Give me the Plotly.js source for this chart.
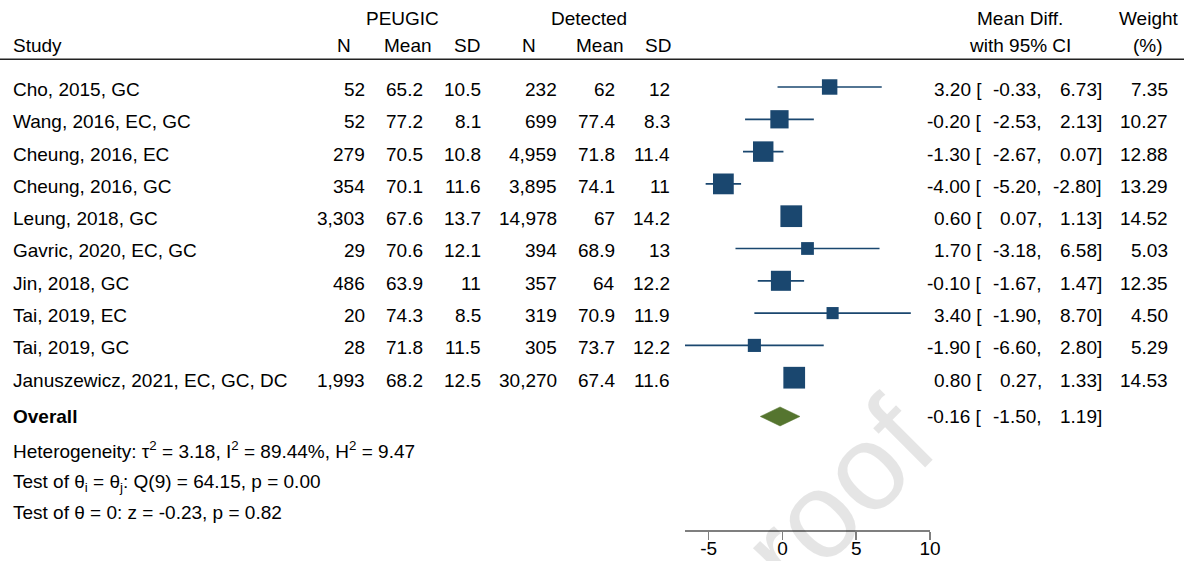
<!DOCTYPE html>
<html>
<head>
<meta charset="utf-8">
<script src="https://cdn.plot.ly/plotly-3.0.1.min.js"></script>
<style>
  html, body { margin: 0; padding: 0; background: #ffffff; }
  #chart { width: 1188px; height: 561px; }
</style>
</head>
<body>
<div id="chart"></div>
<script>
// Study-level inputs: PEUGIC vs detected cancers, mean age comparison
const studies = [
  "Cho, 2015, GC", "Wang, 2016, EC, GC", "Cheung, 2016, EC", "Cheung, 2016, GC",
  "Leung, 2018, GC", "Gavric, 2020, EC, GC", "Jin, 2018, GC", "Tai, 2019, EC",
  "Tai, 2019, GC", "Januszewicz, 2021, EC, GC, DC"
];
const peugicN    = [52, 52, 279, 354, 3303, 29, 486, 20, 28, 1993];
const peugicMean = [65.2, 77.2, 70.5, 70.1, 67.6, 70.6, 63.9, 74.3, 71.8, 68.2];
const peugicSD   = [10.5, 8.1, 10.8, 11.6, 13.7, 12.1, 11, 8.5, 11.5, 12.5];
const detN       = [232, 699, 4959, 3895, 14978, 394, 357, 319, 305, 30270];
const detMean    = [62, 77.4, 71.8, 74.1, 67, 68.9, 64, 70.9, 73.7, 67.4];
const detSD      = [12, 8.3, 11.4, 11, 14.2, 13, 12.2, 11.9, 12.2, 11.6];
const meanDiff   = [3.20, -0.20, -1.30, -4.00, 0.60, 1.70, -0.10, 3.40, -1.90, 0.80];
const ciLow      = [-0.33, -2.53, -2.67, -5.20, 0.07, -3.18, -1.67, -1.90, -6.60, 0.27];
const ciHigh     = [6.73, 2.13, 0.07, -2.80, 1.13, 6.58, 1.47, 8.70, 2.80, 1.33];
const weights    = [7.35, 10.27, 12.88, 13.29, 14.52, 5.03, 12.35, 4.50, 5.29, 14.53];

// Pooled (random-effects) estimate
const overallDiff = -0.16;
const overallLow  = -1.50;
const overallHigh = 1.19;

const xTickVals   = [-5, 0, 5, 10];
const xTickLabels = ["-5", "0", "5", "10"];

const footnotes = [
  "Heterogeneity: \u03c4<sup>2</sup> = 3.18, I<sup>2</sup> = 89.44%, H<sup>2</sup> = 9.47",
  "Test of \u03b8<sub>i</sub> = \u03b8<sub>j</sub>: Q(9) = 64.15, p = 0.00",
  "Test of \u03b8 = 0: z = -0.23, p = 0.82"
];

// ---- styling / geometry ----
const W = 1188, H = 561;
const NAVY = "#1a476f";
const GREEN = "#55752f";
const FONT = "'Liberation Sans', Arial, Helvetica, sans-serif";
const FS = 19;
const overallRow = 10.2;
const footRows = [11.238, 12.245, 13.173];
const headRow1 = -2.105, headRow2 = -1.30, ruleRow = -0.858;
const rowShift = -2.5;

const fmtInt = n => String(n).replace(/\B(?=(\d{3})+(?!\d))/g, ",");
const fmt2 = v => v.toFixed(2);
const px = x => x / W;

const annotations = [];
function txt(text, xpx, y, anchor, extra) {
  annotations.push(Object.assign({
    text: text, x: px(xpx), xref: "paper", y: y, yref: "y",
    xanchor: anchor, yanchor: "middle", showarrow: false,
    borderpad: 0, borderwidth: 0,
    font: { family: FONT, size: FS, color: "#000000" }
  }, extra || {}));
}

// Watermark (drawn first so everything else sits on top)
annotations.push({
  text: "Journal Pre-proof", x: px(579), xref: "paper", y: (530 - 754) / 530, yref: "paper",
  xanchor: "center", yanchor: "middle", showarrow: false, textangle: -45,
  font: { family: FONT, size: 122, color: "rgba(0,0,0,0.1)" }
});

// Column headers
txt("PEUGIC", 402, headRow1, "center");
txt("Detected", 589, headRow1, "center");
txt("Mean Diff.", 1020, headRow1, "center");
txt("Weight", 1149, headRow1, "center");
txt("Study", 13, headRow2, "left");
txt("N", 344, headRow2, "center");
txt("Mean", 408, headRow2, "center");
txt("SD", 467, headRow2, "center");
txt("N", 529, headRow2, "center");
txt("Mean", 600, headRow2, "center");
txt("SD", 658, headRow2, "center");
txt("with 95% CI", 1020, headRow2, "center");
txt("(%)", 1148, headRow2, "center");

// Table body
studies.forEach((s, i) => {
  const o = { yshift: rowShift };
  txt(s, 13, i, "left", o);
  txt(fmtInt(peugicN[i]), 365, i, "right", o);
  txt(String(peugicMean[i]), 423, i, "right", o);
  txt(String(peugicSD[i]), 481, i, "right", o);
  txt(fmtInt(detN[i]), 557, i, "right", o);
  txt(String(detMean[i]), 615, i, "right", o);
  txt(String(detSD[i]), 670, i, "right", o);
  txt(fmt2(meanDiff[i]) + " [", 982, i, "right", o);
  txt(fmt2(ciLow[i]) + ",", 1042, i, "right", o);
  txt(fmt2(ciHigh[i]) + "]", 1102, i, "right", o);
  txt(weights[i].toFixed(2), 1168, i, "right", o);
});

// Overall row and heterogeneity statistics
txt("<b>Overall</b>", 13, overallRow, "left");
txt(fmt2(overallDiff) + " [", 982, overallRow, "right");
txt(fmt2(overallLow) + ",", 1042, overallRow, "right");
txt(fmt2(overallHigh) + "]", 1102, overallRow, "right");
footnotes.forEach((f, k) => txt(f, 13, footRows[k], "left"));

// ---- traces ----
const rows = studies.map((_, i) => i);

const ciX = [], ciY = [];
rows.forEach(i => { ciX.push(ciLow[i], ciHigh[i], null); ciY.push(i, i, null); });

const ciTrace = {
  type: "scatter", mode: "lines", x: ciX, y: ciY,
  line: { color: NAVY, width: 1.7 }, hoverinfo: "skip", cliponaxis: false
};

const boxTrace = {
  type: "scatter", mode: "markers", x: meanDiff, y: rows,
  marker: {
    symbol: "square", color: NAVY, opacity: 1,
    size: weights.map(w => 5.7 * Math.sqrt(w)), line: { width: 0 }
  },
  cliponaxis: false
};

const halfH = 9.5 / 32.3;
const diamondTrace = {
  type: "scatter", mode: "lines", fill: "toself", fillcolor: GREEN,
  x: [overallLow, overallDiff, overallHigh, overallDiff, overallLow],
  y: [overallRow, overallRow - halfH, overallRow, overallRow + halfH, overallRow],
  line: { color: GREEN, width: 0.5 }, cliponaxis: false
};

const layout = {
  width: W, height: H,
  margin: { l: 0, r: 0, t: 0, b: 31, pad: 0 },
  paper_bgcolor: "#ffffff", plot_bgcolor: "rgba(0,0,0,0)",
  showlegend: false,
  xaxis: {
    domain: [685 / W, 930 / W], range: [-6.6, 10], autorange: false,
    showgrid: false, zeroline: false, showline: true, linecolor: "#7f7f7f", linewidth: 1.5,
    ticks: "outside", ticklen: 8, tickwidth: 1.5, tickcolor: "#7f7f7f",
    ticklabelstandoff: -7,
    tickvals: xTickVals, ticktext: xTickLabels,
    tickfont: { family: FONT, size: FS, color: "#000000" }, fixedrange: true
  },
  yaxis: {
    range: [13.715, -2.693], autorange: false, visible: false, fixedrange: true
  },
  shapes: [{
    type: "line", xref: "paper", yref: "y", x0: 0, x1: 1184 / W, y0: ruleRow, y1: ruleRow,
    line: { color: "#222222", width: 1.7 }
  }],
  annotations: annotations
};

Plotly.newPlot("chart", [ciTrace, diamondTrace, boxTrace], layout, { staticPlot: true, displayModeBar: false });
</script>
</body>
</html>
